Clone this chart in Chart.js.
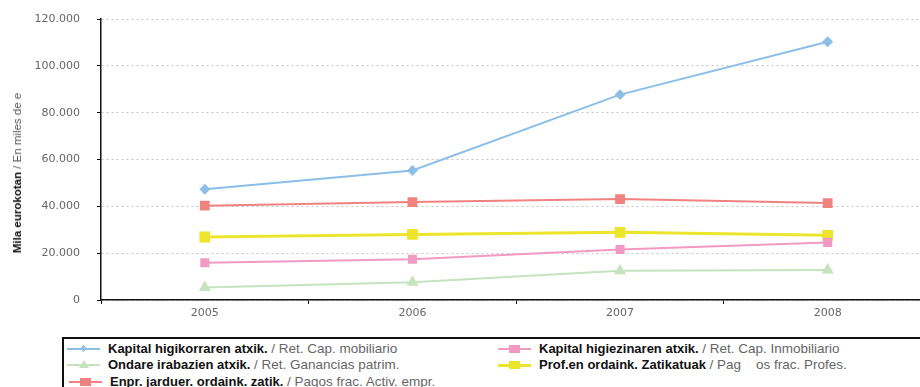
<!DOCTYPE html>
<html>
<head>
<meta charset="utf-8">
<script src="https://cdn.jsdelivr.net/npm/chart.js@4.4.0/dist/chart.umd.min.js"></script>
<style>
  html, body { margin: 0; padding: 0; background: #fff; overflow: hidden; }
  #page { position: relative; width: 920px; height: 387px; overflow: hidden; }
  #chartBox { position: absolute; left: 0; top: 0; width: 940px; height: 330px; }
  #yTitle {
    position: absolute; left: 17px; top: 173px; white-space: nowrap;
    transform: translate(-50%, -50%) rotate(-90deg);
    font-family: 'Liberation Sans Narrow', 'Liberation Sans', sans-serif; font-size: 11.5px;
  }
  #yTitle b { color: #111; }
  #yTitle span { color: #555; font-weight: 300; }
  #legend {
    position: absolute; left: 62px; top: 337px; width: 870px; height: 60px;
    border-top: 2px solid #111; border-left: 2px solid #111;
    font-family: 'Liberation Sans', Arial, sans-serif; font-size: 13px;
  }
  .item { position: absolute; white-space: nowrap; height: 16px; line-height: 16px; }
  .item b { color: #111; }
  .item span.es { color: #666; font-size: 13.5px; }
  .sample { position: absolute; top: 7px; height: 2px; width: 33px; }
  .mk { position: absolute; }
  .txt { position: absolute; left: 41px; top: 0; }
</style>
</head>
<body>
<div id="page">
  <div id="chartBox"><canvas id="lineChart"></canvas></div>
  <div id="yTitle"><b>Mila eurokotan</b> <span>/ En miles de e</span></div>
  <div id="legend"></div>
</div>
<script>
const years = ['2005', '2006', '2007', '2008'];

const capMobiliario = [47300, 55300, 87700, 110300];
const capInmobiliario = [15900, 17400, 21600, 24600];
const ganancias = [5300, 7600, 12500, 12800];
const pagosProfes = [26900, 28000, 28900, 27600];
const pagosEmpr = [40300, 41800, 43100, 41400];

const eusNames = ['Kapital higikorraren atxik.', 'Kapital higiezinaren atxik.', 'Ondare irabazien atxik.', 'Prof.en ordaink. Zatikatuak', 'Enpr. jarduer. ordaink. zatik.'];
const esNames = ['Ret. Cap. mobiliario', 'Ret. Cap. Inmobiliario', 'Ret. Ganancias patrim.', 'Pag&nbsp;&nbsp;&nbsp;&nbsp;os frac. Profes.', 'Pagos frac. Activ. empr.'];

const colors = ['#8cbfe8', '#f39ac3', '#c6e3c0', '#ece52c', '#f08282'];

const yTicks = [0, 20000, 40000, 60000, 80000, 100000, 120000];

const series = [
    {data: capMobiliario, style: 'rectRot', radius: 4, width: 2},
    {data: capInmobiliario, style: 'rect', radius: 5, width: 2},
    {data: ganancias, style: 'triangle', radius: 5, width: 2},
    {data: pagosProfes, style: 'rect', radius: 5.5, width: 3},
    {data: pagosEmpr, style: 'rect', radius: 5.5, width: 2}
];

const datasets = series.map((s, i) => ({
    label: eusNames[i],
    data: s.data,
    borderColor: colors[i],
    backgroundColor: colors[i],
    pointBackgroundColor: colors[i],
    pointBorderColor: colors[i],
    pointStyle: s.style,
    pointRadius: s.radius,
    borderWidth: s.width,
    tension: 0,
    order: i === 0 ? 0 : 1
}));

new Chart(document.getElementById('lineChart'), {
    type: 'line',
    data: { labels: years, datasets: datasets },
    options: {
        responsive: true,
        maintainAspectRatio: false,
        animation: false,
        layout: { padding: { top: 19, right: 7, left: 0, bottom: 0 } },
        plugins: { legend: { display: false }, tooltip: { enabled: false } },
        scales: {
            x: {
                offset: true,
                afterFit: (scale) => { scale.height = 30; },
                grid: { drawOnChartArea: false, drawTicks: true, tickLength: 4, tickColor: '#111', offset: true },
                border: { color: '#111', width: 1.5 },
                ticks: { color: '#666', padding: 3, font: { family: 'DejaVu Sans', size: 11 } }
            },
            y: {
                min: 0, max: 120000,
                afterFit: (scale) => {
                    scale.width = 101;
                    scale.paddingTop = 0;
                    scale.paddingBottom = 0;
                },
                afterBuildTicks: (scale) => { scale.ticks = yTicks.map(v => ({value: v})); },
                grid: { color: '#c4c4c4', tickLength: 4, tickColor: '#111', tickBorderDash: [] },
                border: { color: '#111', width: 1.5, dash: [2, 3] },
                ticks: {
                    color: '#666', padding: 17, crossAlign: 'near',
                    font: { family: 'DejaVu Sans', size: 11 },
                    callback: (v) => v.toLocaleString('de-DE')
                }
            }
        }
    }
});

// legend in html, because each entry mixes bold and normal text
const legendPos = [[3, 2], [434, 2], [3, 18], [434, 18], [5, 35]];
const legendEl = document.getElementById('legend');
series.forEach((s, i) => {
    const [lx, ly] = legendPos[i];
    const c = colors[i];
    let mk = '';
    if (s.style === 'rectRot') mk = `<div class="mk" style="left:14px;top:5px;width:5px;height:5px;background:${c};transform:rotate(45deg)"></div>`;
    else if (s.style === 'triangle') mk = `<div class="mk" style="left:12px;top:3px;width:0;height:0;border-left:5px solid transparent;border-right:5px solid transparent;border-bottom:8px solid ${c}"></div>`;
    else mk = `<div class="mk" style="left:11px;top:4px;width:11px;height:8px;background:${c}"></div>`;
    legendEl.innerHTML += `
        <div class="item" style="left:${lx}px;top:${ly}px">
            <div class="sample" style="background:${c};height:${s.width}px"></div>${mk}
            <div class="txt"><b>${eusNames[i]}</b> <span class="es">/ ${esNames[i]}</span></div>
        </div>`;
});
</script>
</body>
</html>
